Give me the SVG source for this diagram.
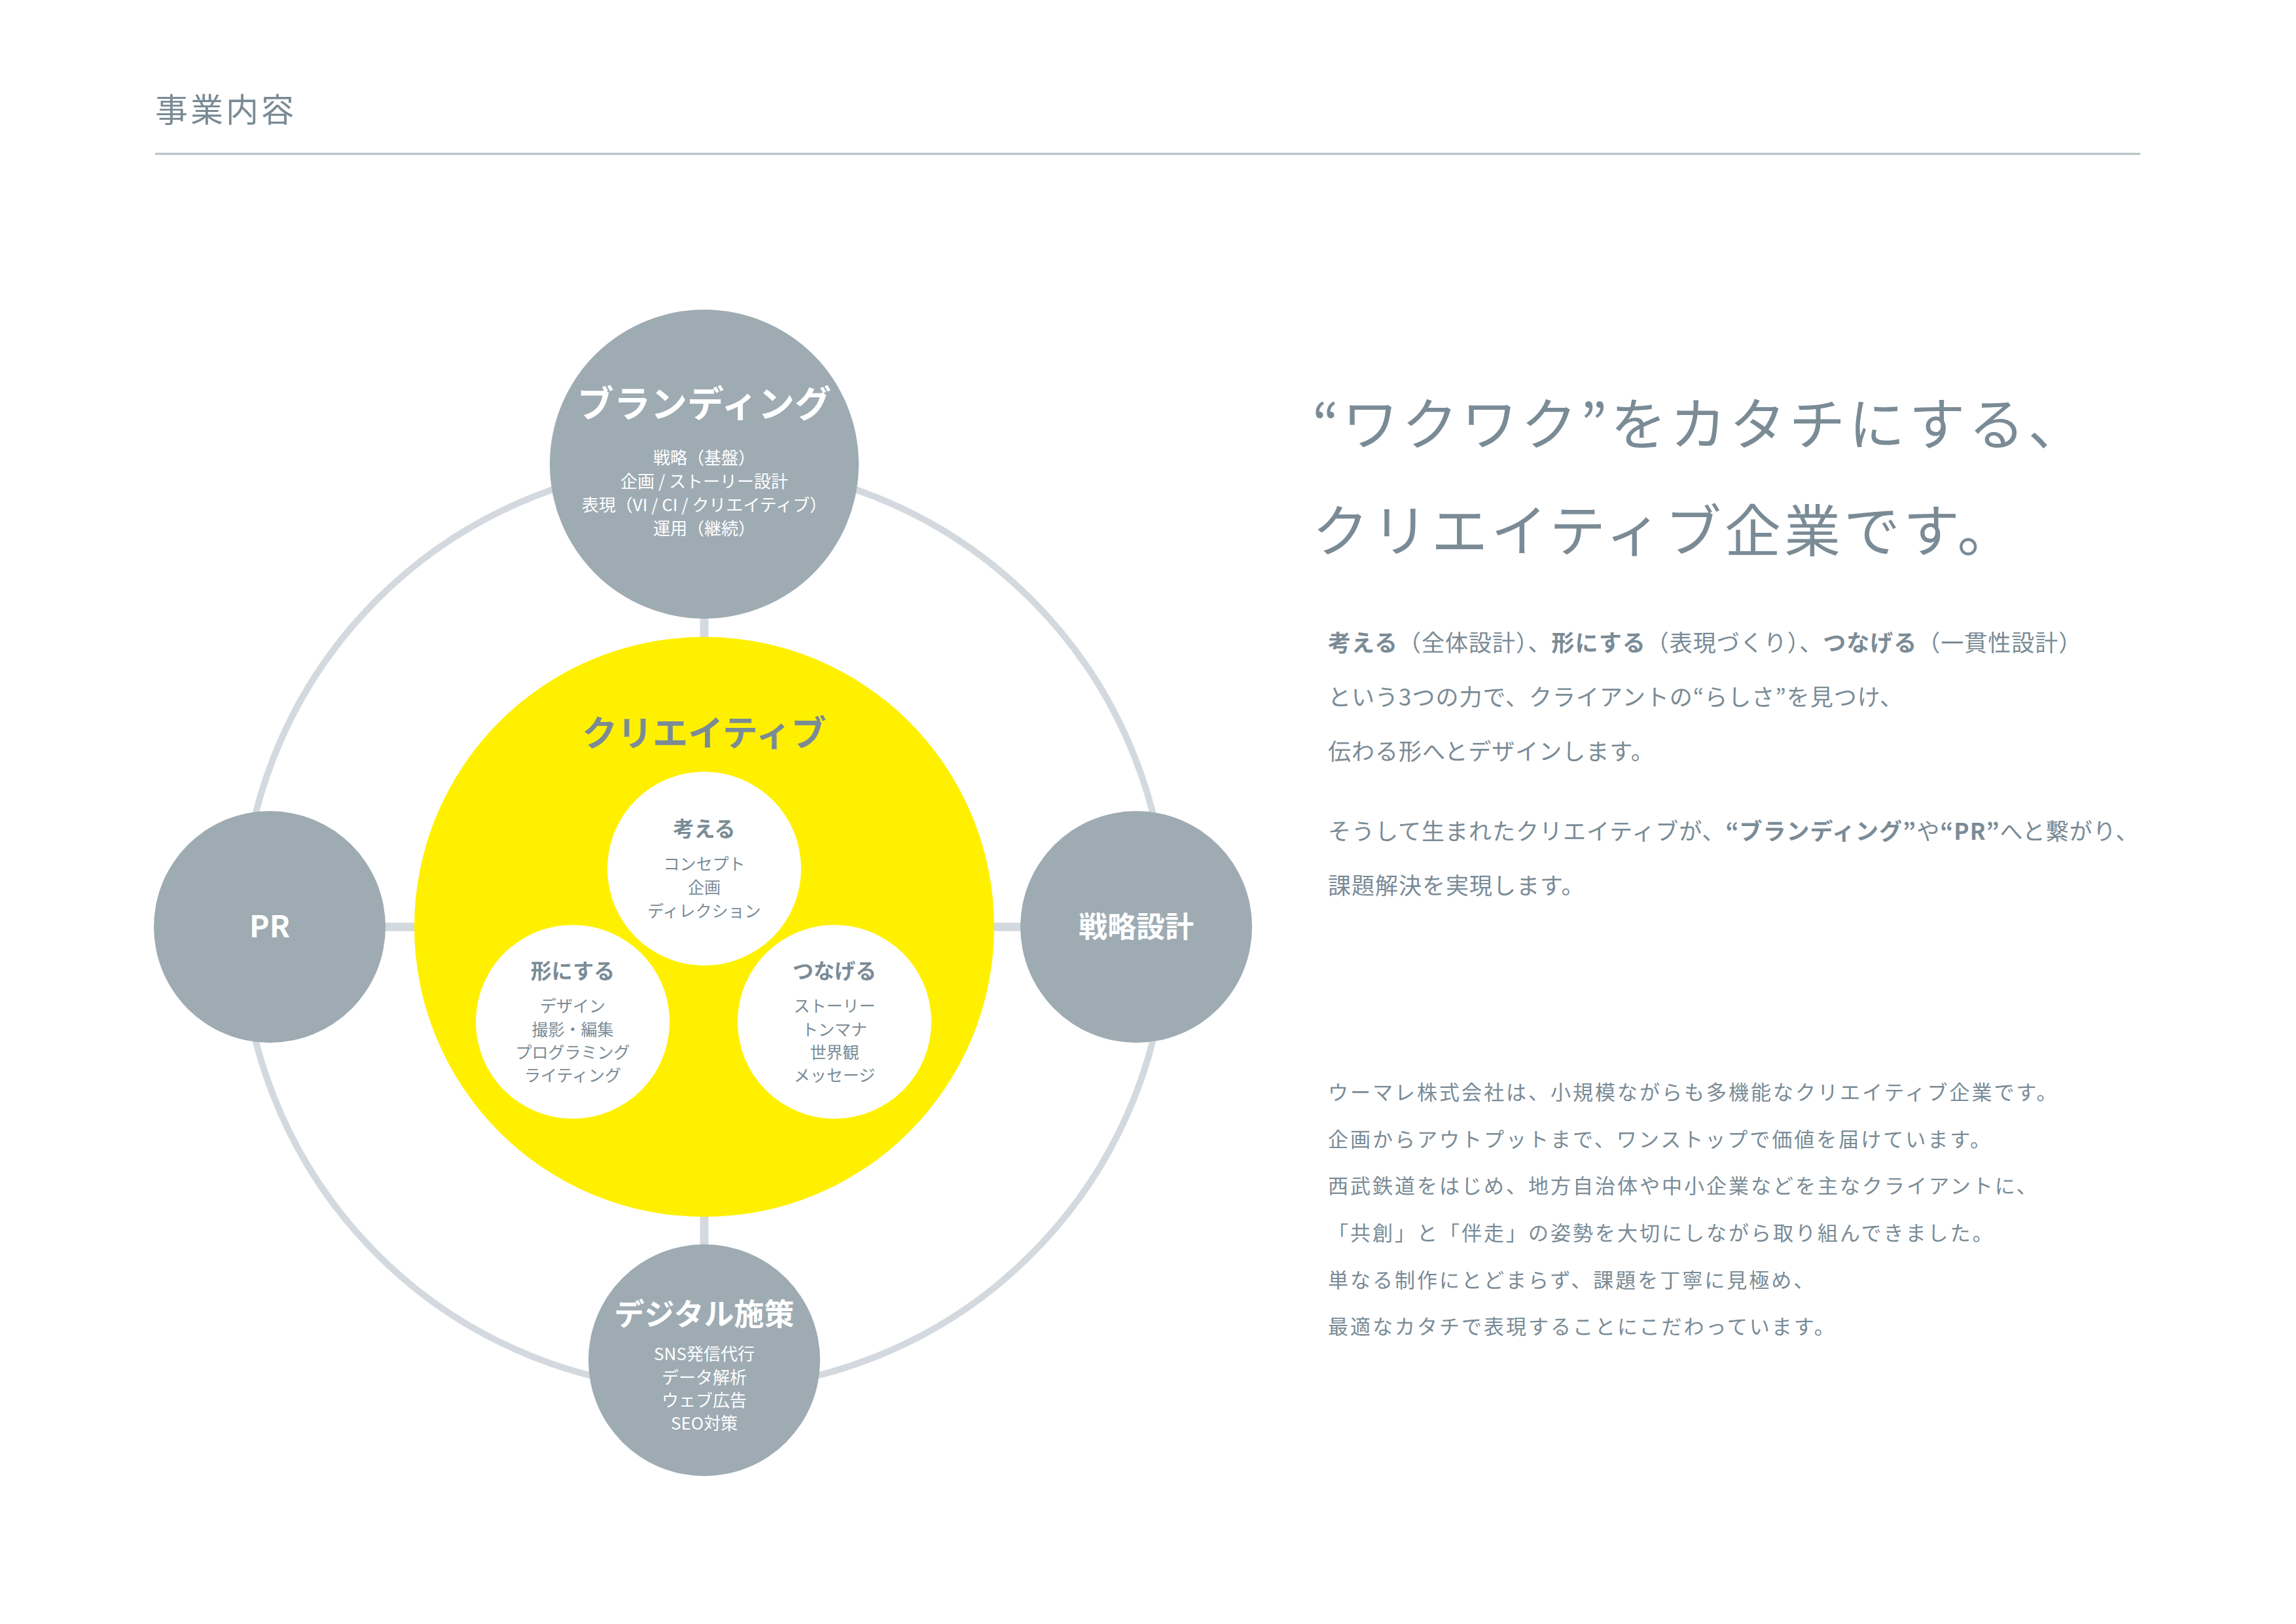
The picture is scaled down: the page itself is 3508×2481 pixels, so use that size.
<svg xmlns="http://www.w3.org/2000/svg" width="3508" height="2481" viewBox="0 0 3508 2481">
<style>
.t{font-family:"Noto Sans CJK JP","Liberation Sans",sans-serif;text-anchor:middle}
.nw{fill:#fff;font-weight:700}
.ns{fill:#fff;font-size:26px}
.g{fill:#9eabb3}
.wt{fill:#7a8b96;font-weight:700;font-size:32px}
.ws{fill:#7a8b96;font-size:25px}
.p{font-family:"Noto Sans CJK JP","Liberation Sans",sans-serif;fill:#7a8b96}
.spoke{stroke:#d3d9de;stroke-width:13;fill:none}
</style>
<rect width="3508" height="2481" fill="#fff"/>
<text x="237" y="186" class="p" font-size="50" letter-spacing="4">事業内容</text>
<line x1="237" y1="235" x2="3270" y2="235" stroke="#b5bdc3" stroke-width="3"/>
<g id="connectors">
<circle cx="1076" cy="1416" r="707" fill="none" stroke="#d3d9de" stroke-width="10"/>
<line class="spoke" x1="1076" y1="940" x2="1076" y2="975"/>
<line class="spoke" x1="1076" y1="1855" x2="1076" y2="1905"/>
<line class="spoke" x1="585" y1="1416" x2="635" y2="1416"/>
<line class="spoke" x1="1517" y1="1416" x2="1562" y2="1416"/>
</g>
<g id="creative">
<circle cx="1076" cy="1416" r="443" fill="#fff000"/>
<text x="1076" y="1140" class="t" fill="#7a8b96" font-weight="700" font-size="54">クリエイティブ</text>
</g>
<g id="kangaeru">
<circle cx="1076" cy="1327" r="148" fill="#fff"/>
<text x="1076" y="1278" class="t wt">考える</text>
<text x="1076" y="1329" class="t ws">コンセプト</text>
<text x="1076" y="1365" class="t ws">企画</text>
<text x="1076" y="1401" class="t ws">ディレクション</text>
</g>
<g id="katachi">
<circle cx="875" cy="1561" r="148" fill="#fff"/>
<text x="875" y="1495" class="t wt">形にする</text>
<text x="875" y="1546" class="t ws">デザイン</text>
<text x="875" y="1582" class="t ws">撮影・編集</text>
<text x="875" y="1617" class="t ws">プログラミング</text>
<text x="875" y="1652" class="t ws">ライティング</text>
</g>
<g id="tsunageru">
<circle cx="1275" cy="1561" r="148" fill="#fff"/>
<text x="1275" y="1495" class="t wt">つなげる</text>
<text x="1275" y="1546" class="t ws">ストーリー</text>
<text x="1275" y="1582" class="t ws">トンマナ</text>
<text x="1275" y="1617" class="t ws">世界観</text>
<text x="1275" y="1652" class="t ws">メッセージ</text>
</g>
<g id="branding">
<circle cx="1076" cy="709" r="236" class="g"/>
<text x="1076" y="637" class="t nw" font-size="56">ブランディング</text>
<text x="1076" y="709" class="t ns">戦略（基盤）</text>
<text x="1076" y="745" class="t ns">企画 / ストーリー設計</text>
<text x="1076" y="781" class="t ns">表現（VI / CI / クリエイティブ）</text>
<text x="1076" y="817" class="t ns">運用（継続）</text>
</g>
<g id="pr">
<circle cx="412" cy="1416" r="177" class="g"/>
<text x="412" y="1432" class="t nw" font-size="46">PR</text>
</g>
<g id="senryaku">
<circle cx="1736" cy="1416" r="177" class="g"/>
<text x="1736" y="1432" class="t nw" font-size="44">戦略設計</text>
</g>
<g id="digital">
<circle cx="1076" cy="2078" r="177" class="g"/>
<text x="1076" y="2024" class="t nw" font-size="46">デジタル施策</text>
<text x="1076" y="2078" class="t ns">SNS発信代行</text>
<text x="1076" y="2114" class="t ns">データ解析</text>
<text x="1076" y="2149" class="t ns">ウェブ広告</text>
<text x="1076" y="2184" class="t ns">SEO対策</text>
</g>
<g id="copy">
<text x="2005" y="680" class="p" font-size="86" letter-spacing="5">“ワクワク”をカタチにする、</text>
<text x="2005" y="843" class="p" font-size="86" letter-spacing="5">クリエイティブ企業です。</text>
<text x="2029" y="995" class="p" font-size="35" letter-spacing="1"><tspan font-weight="700">考える</tspan>（全体設計）、<tspan font-weight="700">形にする</tspan>（表現づくり）、<tspan font-weight="700">つなげる</tspan>（一貫性設計）</text>
<text x="2029" y="1078" class="p" font-size="35" letter-spacing="1">という3つの力で、クライアントの“らしさ”を見つけ、</text>
<text x="2029" y="1161" class="p" font-size="35" letter-spacing="1">伝わる形へとデザインします。</text>
<text x="2029" y="1283" class="p" font-size="35" letter-spacing="1">そうして生まれたクリエイティブが、<tspan font-weight="700">“ブランディング”</tspan>や<tspan font-weight="700">“PR”</tspan>へと繋がり、</text>
<text x="2029" y="1366" class="p" font-size="35" letter-spacing="1">課題解決を実現します。</text>
<text x="2029" y="1680" class="p" font-size="31" letter-spacing="3">ウーマレ株式会社は、小規模ながらも多機能なクリエイティブ企業です。</text>
<text x="2029" y="1752" class="p" font-size="31" letter-spacing="3">企画からアウトプットまで、ワンストップで価値を届けています。</text>
<text x="2029" y="1823" class="p" font-size="31" letter-spacing="3">西武鉄道をはじめ、地方自治体や中小企業などを主なクライアントに、</text>
<text x="2029" y="1895" class="p" font-size="31" letter-spacing="3">「共創」と「伴走」の姿勢を大切にしながら取り組んできました。</text>
<text x="2029" y="1967" class="p" font-size="31" letter-spacing="3">単なる制作にとどまらず、課題を丁寧に見極め、</text>
<text x="2029" y="2038" class="p" font-size="31" letter-spacing="3">最適なカタチで表現することにこだわっています。</text>
</g>
</svg>
